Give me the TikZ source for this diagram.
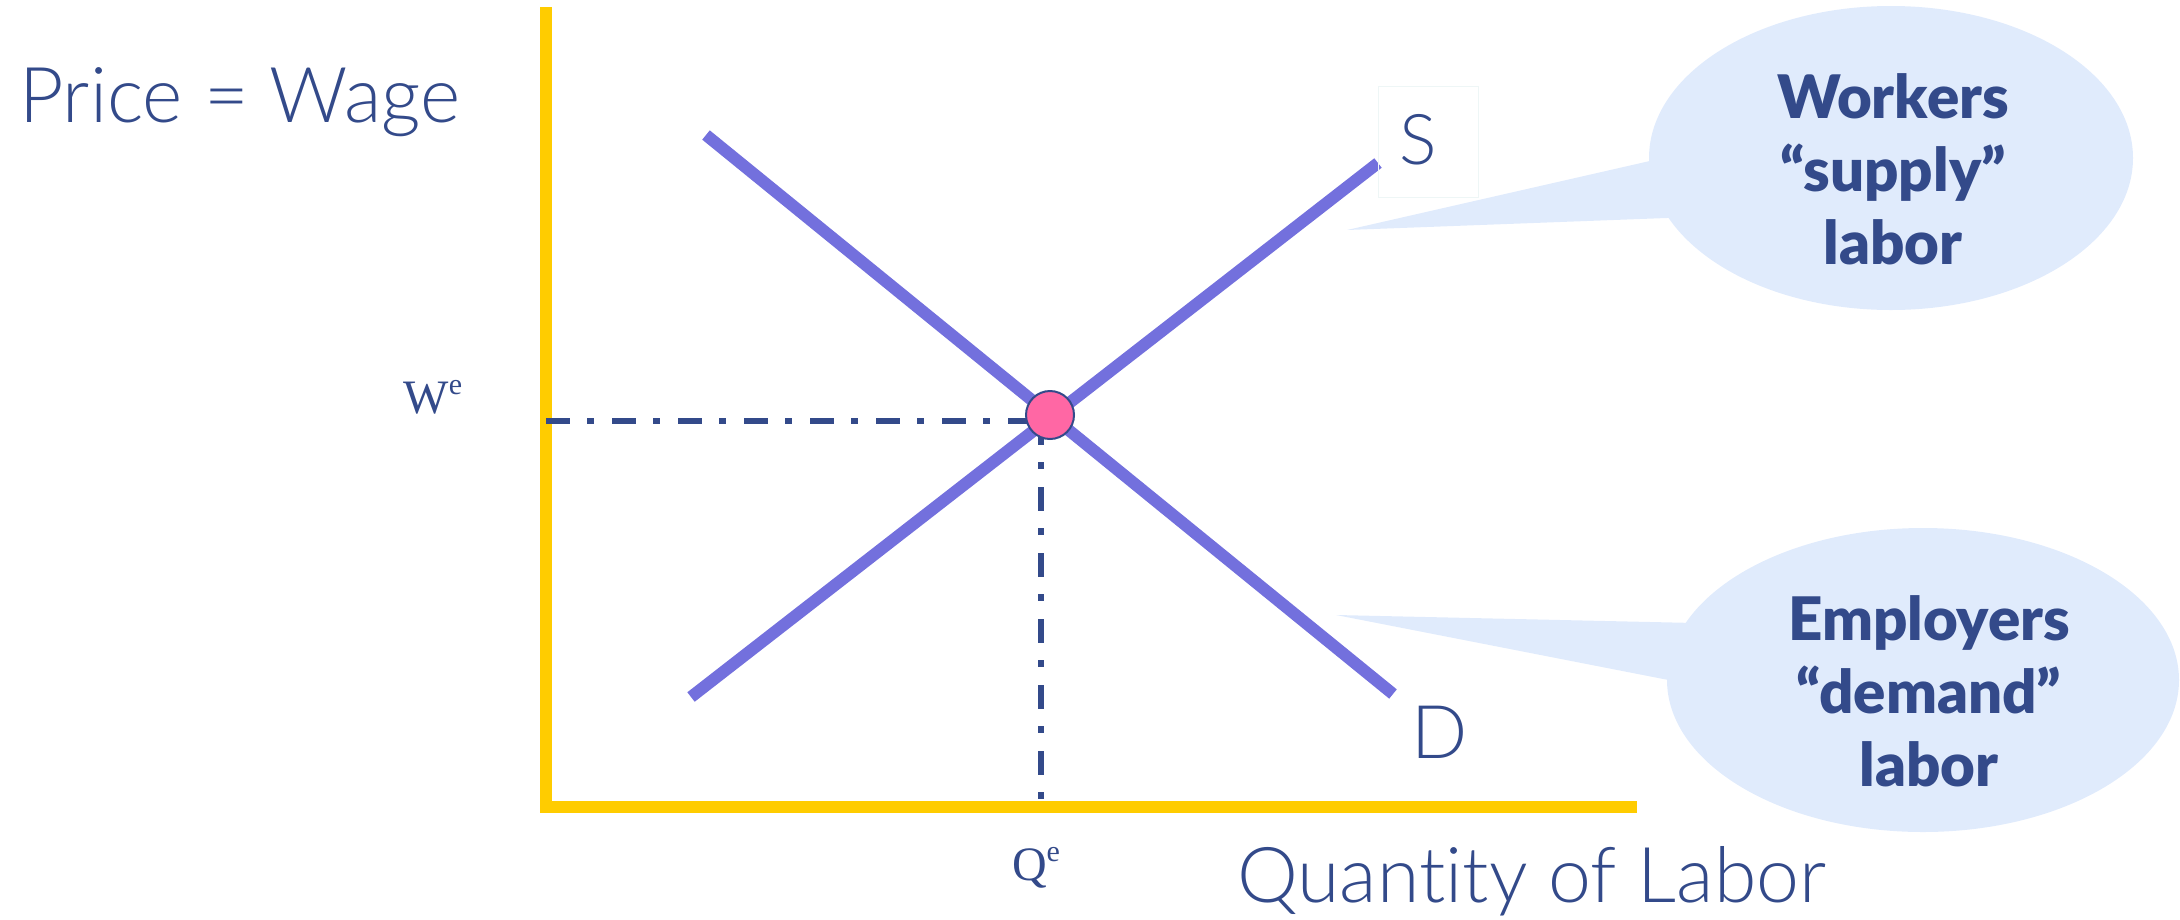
\documentclass[tikz,border=0pt]{standalone}
\usepackage{fontspec}
\setmainfont{Lato}
\newfontfamily\lightfont{Lato Light}[Ligatures=CommonOff]
\newfontfamily\heavyfont{Lato Black}
\newfontfamily\timesfont{Liberation Serif}
\definecolor{axisyellow}{HTML}{FFCC00}
\definecolor{curvepurple}{HTML}{7370DD}
\definecolor{inkblue}{HTML}{334A8A}
\definecolor{dotpink}{HTML}{FF67A4}
\definecolor{bubble}{HTML}{E0EBFC}
\definecolor{faintbox}{HTML}{EEF6F6}
\tikzset{
  axisline/.style={draw=axisyellow, line width=12pt, line cap=butt},
  curveline/.style={draw=curvepurple, line width=12pt, line cap=butt},
  guideline/.style={draw=inkblue, line width=5.5pt, dash pattern=on 24pt off 17pt on 7pt off 18pt},
  bubblefill/.style={fill=bubble, draw=none},
  bubbletext/.style={font=\heavyfont\fontsize{60}{73}\selectfont, text=inkblue, anchor=base, inner sep=0pt},
  bigtext/.style={font=\lightfont\fontsize{77}{80}\selectfont, text=inkblue, inner sep=0pt},
  eqtext/.style={font=\timesfont\fontsize{48}{50}\selectfont, text=inkblue, inner sep=0pt}
}
\newcommand{\eqsup}{\raisebox{19pt}{\fontsize{30}{30}\selectfont e}}
\begin{document}
\begin{tikzpicture}[x=1pt,y=-1pt]
\useasboundingbox (0,0) rectangle (2180,919);

% callout bubbles
\coordinate (B1c) at (1891,158);
\coordinate (B1tip) at (1347,230);
\fill[bubblefill] (B1c) ellipse [x radius=242pt, y radius=152pt];
\fill[bubblefill] (B1tip) -- (1720,145) -- (1720,216) -- cycle;
\coordinate (B2c) at (1923,680);
\coordinate (B2tip) at (1336,615);
\fill[bubblefill] (B2c) ellipse [x radius=256pt, y radius=152pt];
\fill[bubblefill] (B2tip) -- (1740,624) -- (1740,694) -- cycle;

\node[bubbletext] (w1) at (1893,118) {Workers};
\node[bubbletext] (w2) at (1893,191) {“supply”};
\node[bubbletext] (w3) at (1893,264) {labor};
\node[bubbletext] (e1) at (1929,640) {Employers};
\node[bubbletext] (e2) at (1929,713) {“demand”};
\node[bubbletext] (e3) at (1929,786) {labor};

% axes
\coordinate (Ytop) at (546,7);
\coordinate (Ybot) at (546,813);
\coordinate (Xl) at (546,807);
\coordinate (Xr) at (1637,807);
\draw[axisline] (Ytop) -- (Ybot);
\draw[axisline] (Xl) -- (Xr);

% curves
\coordinate (D1) at (706,135);
\coordinate (D2) at (1393,694);
\coordinate (S1) at (691,697);
\coordinate (S2) at (1378,163);
\draw[curveline] (D1) -- (D2);
\draw[curveline] (S1) -- (S2);

% guides
\coordinate (Wl) at (546,421);
\coordinate (Wr) at (1041,421);
\coordinate (Qb) at (1041,807);
\draw[guideline] (Wl) -- (Wr);
\draw[guideline] (Wr) -- (Qb);

% equilibrium point
\node[circle, fill=dotpink, draw=inkblue, line width=2pt, minimum size=48pt, inner sep=0pt] (E) at (1050,415) {};

% labels
\node[bigtext, anchor=base west] (title) at (19,122) {Price = Wage};
\node[bigtext, anchor=base west] (xlab) at (1237,902) {Quantity of Labor};
\node[draw=faintbox, line width=1pt, minimum width=100pt, minimum height=111pt, inner sep=0pt] (Sbox) at (1428,142) {};
\node[bigtext, font=\lightfont\fontsize{70}{72}\selectfont, anchor=base] (Slab) at (1418,164) {S};
\node[bigtext, font=\lightfont\fontsize{74}{76}\selectfont, anchor=base] (Dlab) at (1440,758) {D};
\node[eqtext, anchor=base] (We) at (433,413) {W\eqsup};
\node[eqtext, anchor=base] (Qe) at (1036,880) {Q\eqsup};
\end{tikzpicture}
\end{document}
